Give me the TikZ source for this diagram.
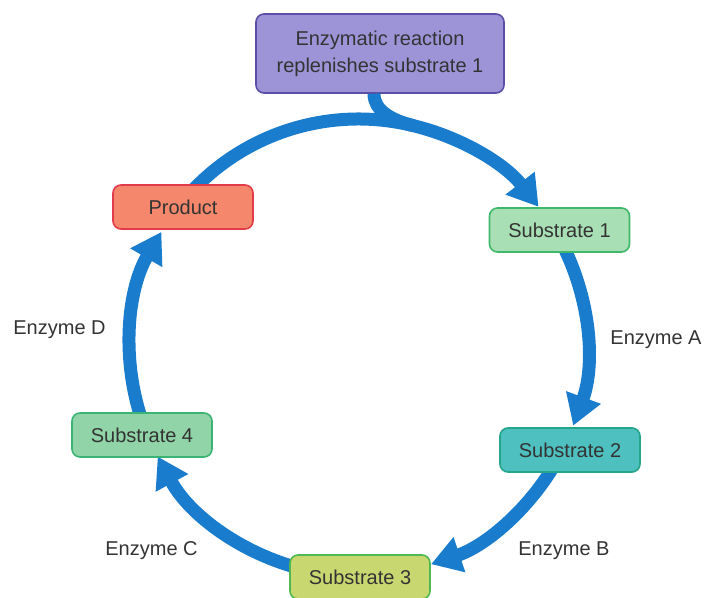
\documentclass[tikz,border=0pt]{standalone}
\usepackage{fontspec}
\setmainfont{Liberation Sans}
\usetikzlibrary{arrows.meta,calc}
\definecolor{CycleClr}{HTML}{1A7CCC}
\definecolor{TextClr}{HTML}{333333}
\definecolor{ReacFill}{HTML}{9D94D8}
\definecolor{ReacLine}{HTML}{5B4EA6}
\definecolor{ProdFill}{HTML}{F5886C}
\definecolor{ProdLine}{HTML}{E23B4A}
\definecolor{SubAFill}{HTML}{A9DFB4}
\definecolor{SubALine}{HTML}{3FB86A}
\definecolor{SubBFill}{HTML}{4EC0BF}
\definecolor{SubBLine}{HTML}{25A58A}
\definecolor{SubCFill}{HTML}{C9D771}
\definecolor{SubCLine}{HTML}{50B850}
\definecolor{SubDFill}{HTML}{90D4A8}
\definecolor{SubDLine}{HTML}{3AB375}

\begin{document}
\begin{tikzpicture}[x=0.5pt,y=0.5pt,
  every node/.style={font=\fontsize{10}{13.5}\selectfont,text=TextClr},
  box/.style={rounded corners=4pt,line width=0.8pt,minimum width=70pt,minimum height=22pt,inner sep=0pt},
  enz/.style={anchor=west,inner sep=0pt},
  cyc/.style={draw=CycleClr,line width=6.5pt},
  cycarrow/.style={cyc,-{Triangle[width=17.5pt,length=15pt]}}]
\useasboundingbox (0,0) rectangle (706,-598);
\def\R{228.5}

\coordinate (c) at (358.5,-347.5);
\coordinate (join) at ($(c)+(76:\R)$);
\coordinate (prod-out) at ($(c)+(140:\R)$);
\coordinate (s1-out) at ($(c)+(30:\R)$);
\coordinate (s2-out) at ($(c)+(-28:\R)$);
\coordinate (s3-out) at ($(c)+(-100:\R)$);
\coordinate (s4-out) at ($(c)+(200:\R)$);

\node[box,draw=ReacLine,fill=ReacFill,minimum width=124pt,minimum height=39.5pt,align=center] (reac) at (380,-53.5) {Enzymatic reaction\\replenishes substrate 1};

\draw[cycarrow] (prod-out) arc[start angle=140,end angle=38,radius=\R];
\draw[cycarrow] (s1-out) arc[start angle=30,end angle=-20,radius=\R];
\draw[cycarrow] (s2-out) arc[start angle=-28,end angle=-71.5,radius=\R];
\draw[cycarrow] (s3-out) arc[start angle=-100,end angle=-151.5,radius=\R];
\draw[cycarrow] (s4-out) arc[start angle=200,end angle=149.6,radius=\R];
\draw[cyc] ([xshift=-3pt]reac.south) .. controls +(0,-16) and +(-24,6) .. (join);

\node[box,draw=ProdLine,fill=ProdFill] (prod) at (183,-207) {Product};
\node[box,draw=SubALine,fill=SubAFill] (s1) at (559.5,-230) {Substrate 1};
\node[box,draw=SubBLine,fill=SubBFill] (s2) at (570,-450) {Substrate 2};
\node[box,draw=SubCLine,fill=SubCFill] (s3) at (360,-577) {Substrate 3};
\node[box,draw=SubDLine,fill=SubDFill] (s4) at (142,-435) {Substrate 4};

\node[enz] (enz-a) at (610,-340) {Enzyme A};
\node[enz] (enz-b) at (518,-551) {Enzyme B};
\node[enz] (enz-c) at (105,-551) {Enzyme C};
\node[enz] (enz-d) at (13,-330) {Enzyme D};
\end{tikzpicture}
\end{document}
